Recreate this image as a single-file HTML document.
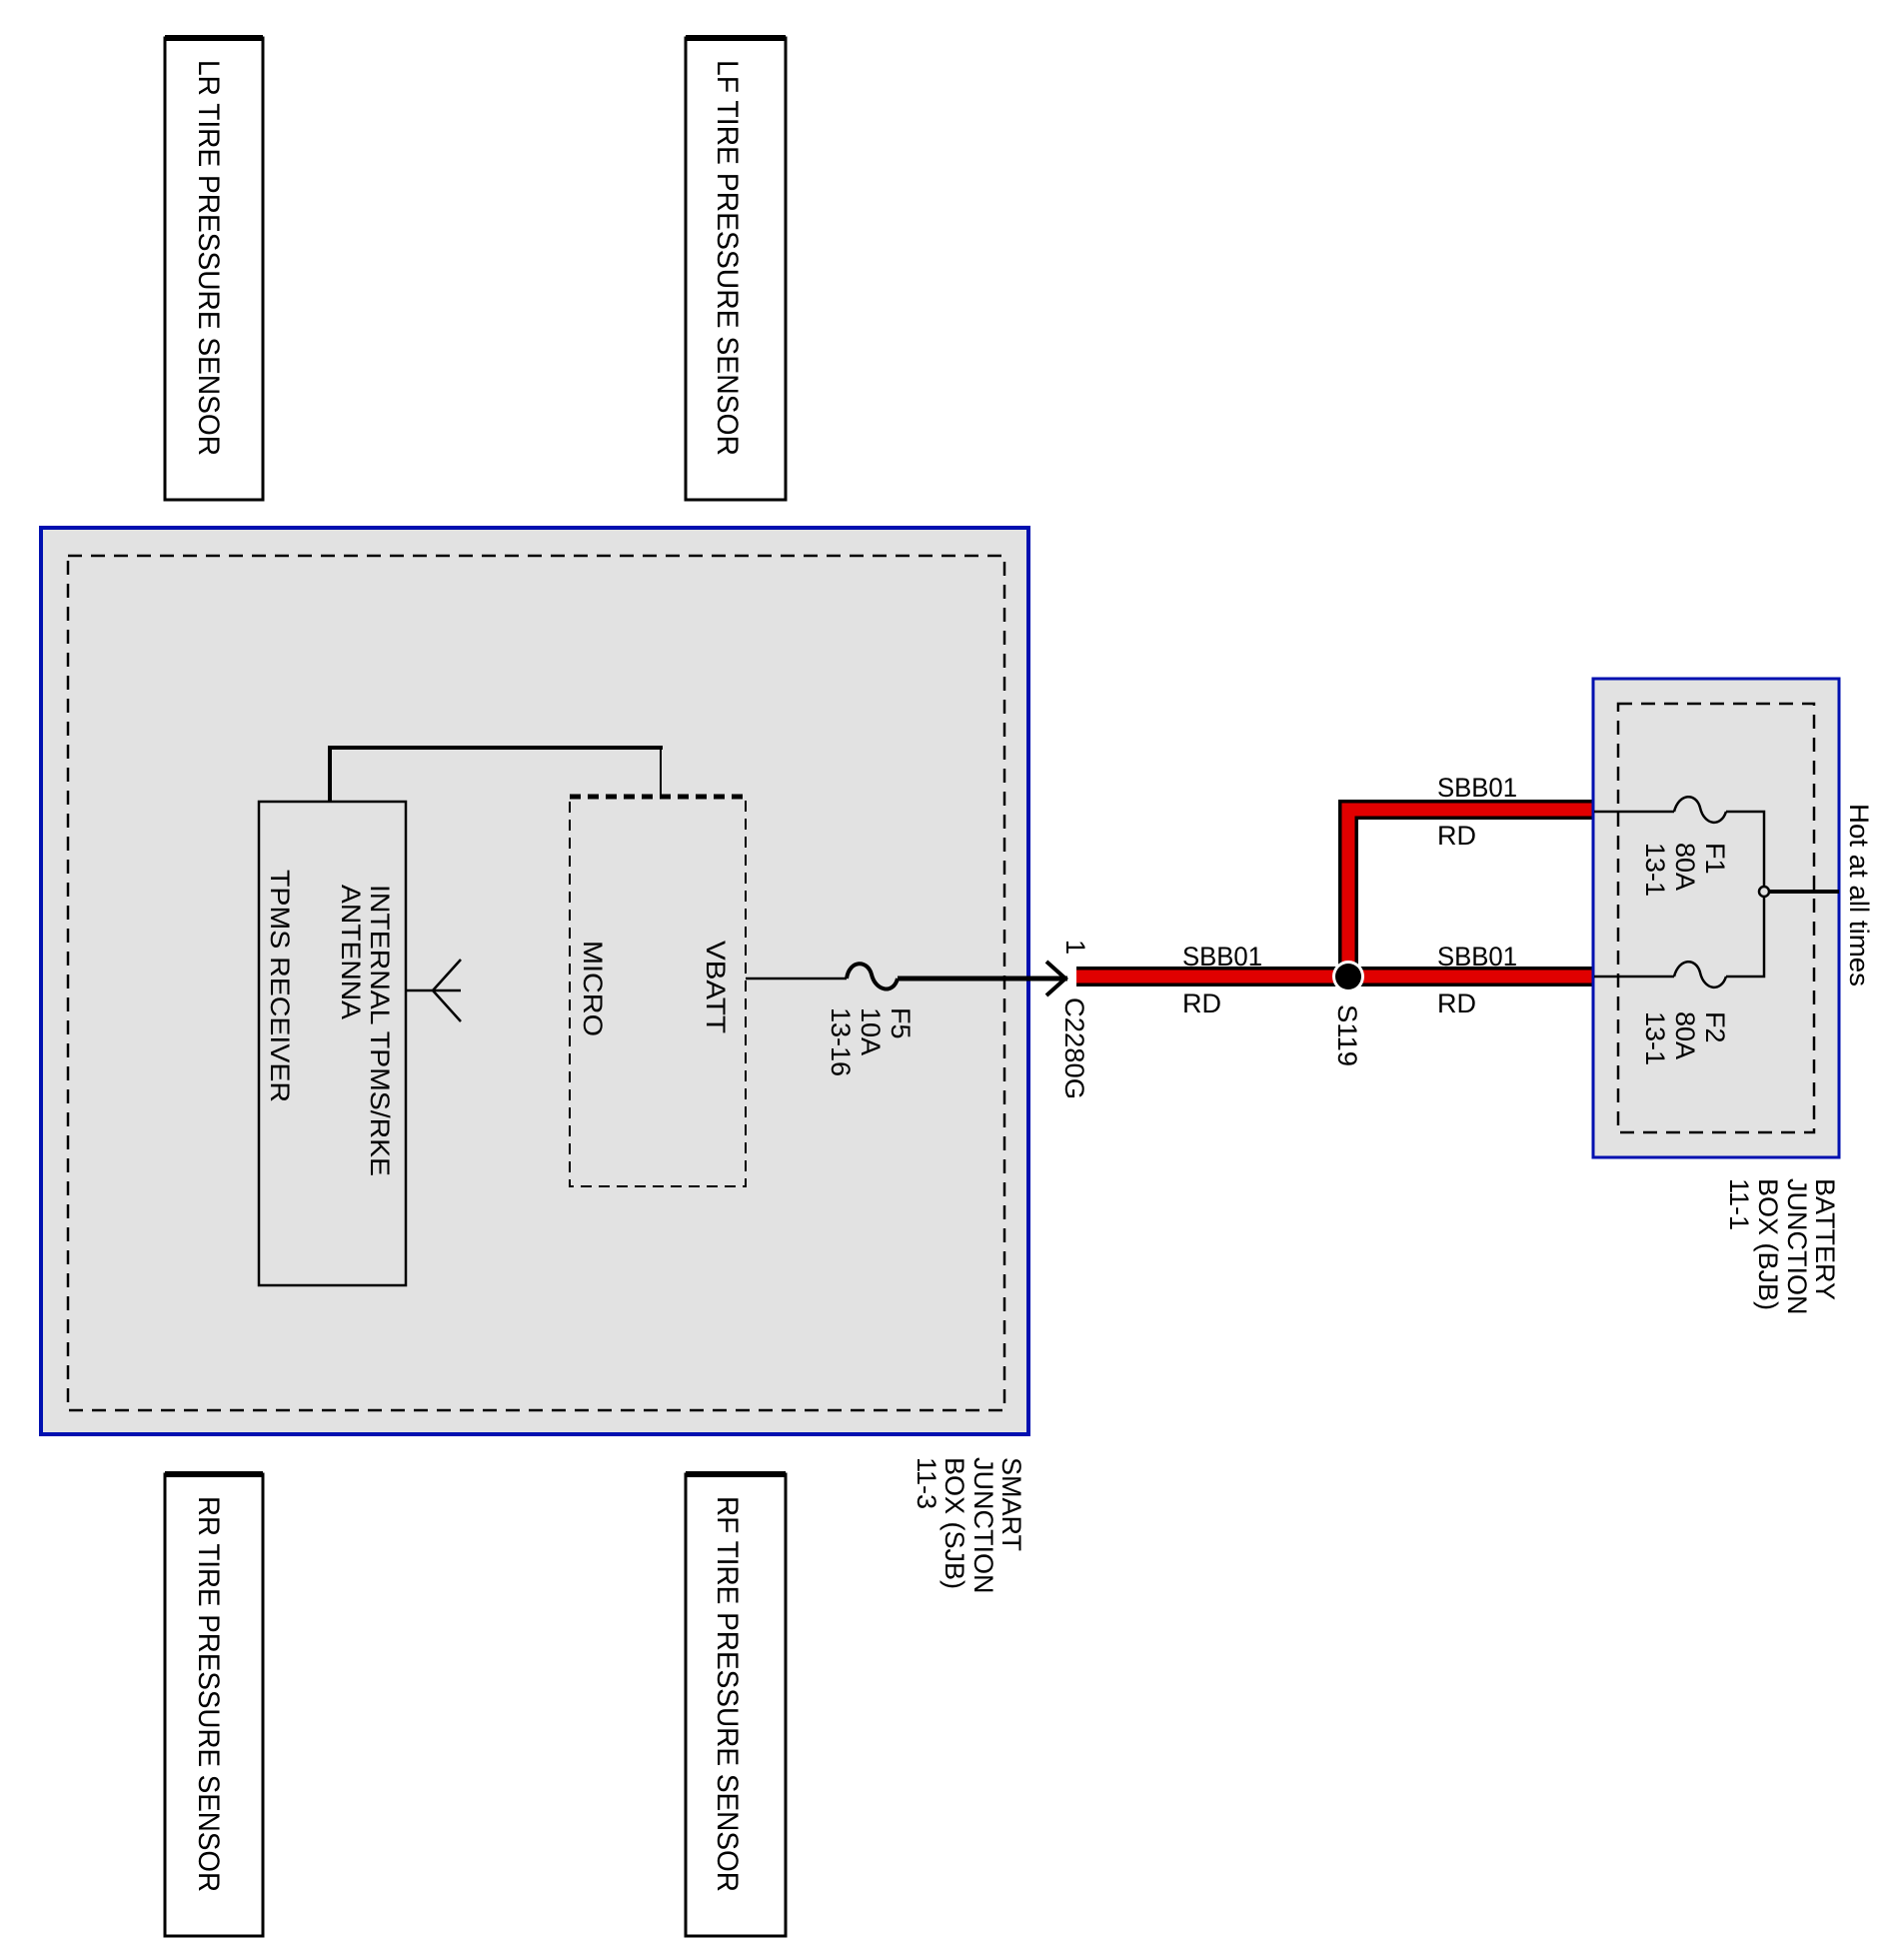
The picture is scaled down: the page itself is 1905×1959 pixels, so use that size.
<!DOCTYPE html>
<html><head><meta charset="utf-8"><style>
html,body{margin:0;padding:0;background:#fff;}
svg{display:block;}
text{font-family:"Liberation Sans",Arial,sans-serif;fill:#000;}
</style></head><body>
<svg width="1905" height="1959" viewBox="0 0 1905 1959" xmlns="http://www.w3.org/2000/svg">
<g fill="none" stroke="#000" stroke-width="3">
<rect x="165" y="38" width="98" height="462"/>
<rect x="686" y="38" width="100" height="462"/>
<rect x="165" y="1475" width="98" height="462"/>
<rect x="686" y="1475" width="100" height="462"/>
</g>
<g stroke="#000" stroke-width="6">
<line x1="165" y1="38" x2="263" y2="38"/><line x1="686" y1="38" x2="786" y2="38"/>
<line x1="165" y1="1475" x2="263" y2="1475"/><line x1="686" y1="1475" x2="786" y2="1475"/>
</g>
<g font-size="30">
<text transform="translate(199,60) rotate(90)" textLength="396" lengthAdjust="spacingAndGlyphs">LR TIRE PRESSURE SENSOR</text>
<text transform="translate(718,60) rotate(90)" textLength="396" lengthAdjust="spacingAndGlyphs">LF TIRE PRESSURE SENSOR</text>
<text transform="translate(199,1497) rotate(90)" textLength="396" lengthAdjust="spacingAndGlyphs">RR TIRE PRESSURE SENSOR</text>
<text transform="translate(718,1497) rotate(90)" textLength="396" lengthAdjust="spacingAndGlyphs">RF TIRE PRESSURE SENSOR</text>
</g>
<rect x="41" y="528" width="988" height="907" fill="#e2e2e2" stroke="#0010b0" stroke-width="4"/>
<rect x="68" y="556" width="937" height="855" fill="none" stroke="#000" stroke-width="2.5" stroke-dasharray="14,9"/>
<rect x="259" y="802" width="147" height="484" fill="none" stroke="#000" stroke-width="2.5"/>
<rect x="570" y="797" width="176" height="390" fill="none" stroke="#000" stroke-width="2" stroke-dasharray="11,7"/>
<line x1="570" y1="797" x2="746" y2="797" stroke="#000" stroke-width="5" stroke-dasharray="11,7"/>
<polyline points="330,802 330,748 663,748" fill="none" stroke="#000" stroke-width="4"/>
<line x1="661" y1="748" x2="661" y2="797" stroke="#000" stroke-width="2"/>
<g stroke="#000" stroke-width="2.5" fill="none">
<line x1="406" y1="991" x2="461" y2="991"/>
<line x1="433" y1="991" x2="461" y2="960"/>
<line x1="433" y1="991" x2="461" y2="1022"/>
</g>
<g font-size="27">
<text transform="translate(371,885) rotate(90)" textLength="292" lengthAdjust="spacingAndGlyphs">INTERNAL TPMS/RKE</text>
<text transform="translate(342,885) rotate(90)" textLength="135" lengthAdjust="spacingAndGlyphs">ANTENNA</text>
<text transform="translate(271,870) rotate(90)" textLength="233" lengthAdjust="spacingAndGlyphs">TPMS RECEIVER</text>
<text transform="translate(707,941) rotate(90)" textLength="93" lengthAdjust="spacingAndGlyphs">VBATT</text>
<text transform="translate(584,941) rotate(90)" textLength="96" lengthAdjust="spacingAndGlyphs">MICRO</text>
<text transform="translate(892,1008) rotate(90)">F5</text>
<text transform="translate(862,1008) rotate(90)">10A</text>
<text transform="translate(832,1008) rotate(90)">13-16</text>
<text transform="translate(1003,1458) rotate(90)">SMART</text>
<text transform="translate(975,1458) rotate(90)">JUNCTION</text>
<text transform="translate(946,1458) rotate(90)">BOX (SJB)</text>
<text transform="translate(918,1458) rotate(90)">11-3</text>
</g>
<line x1="746" y1="979" x2="847" y2="979" stroke="#000" stroke-width="2.5"/>
<path d="M847,979 C850,960 868,960 872,975 C876,992 894,995 898,979" fill="none" stroke="#000" stroke-width="4"/>
<line x1="898" y1="979" x2="1068" y2="979" stroke="#000" stroke-width="5"/>
<polyline points="1047,962 1066,979 1047,996" fill="none" stroke="#000" stroke-width="4"/>
<path d="M1077,977 H1595" fill="none" stroke="#000" stroke-width="20"/>
<path d="M1349,977 V810 H1595" fill="none" stroke="#000" stroke-width="20"/>
<path d="M1077,977 H1595" fill="none" stroke="#e00000" stroke-width="13"/>
<path d="M1349,977 V810 H1595" fill="none" stroke="#e00000" stroke-width="13"/>
<circle cx="1349" cy="977" r="16" fill="#fff"/>
<circle cx="1349" cy="977" r="13" fill="#000"/>
<g font-size="27">
<text x="1183" y="966" textLength="80" lengthAdjust="spacingAndGlyphs">SBB01</text>
<text x="1183" y="1013">RD</text>
<text x="1438" y="966" textLength="80" lengthAdjust="spacingAndGlyphs">SBB01</text>
<text x="1438" y="1013">RD</text>
<text x="1438" y="797" textLength="80" lengthAdjust="spacingAndGlyphs">SBB01</text>
<text x="1438" y="845">RD</text>
<text transform="translate(1067,940) rotate(90)">1</text>
<text transform="translate(1066,998) rotate(90)" textLength="102" lengthAdjust="spacingAndGlyphs">C2280G</text>
<text transform="translate(1339,1005) rotate(90)" textLength="62" lengthAdjust="spacingAndGlyphs">S119</text>
</g>
<rect x="1594" y="679" width="246" height="479" fill="#e2e2e2" stroke="#0010b0" stroke-width="3"/>
<rect x="1619" y="704" width="196" height="429" fill="none" stroke="#000" stroke-width="2.5" stroke-dasharray="14,9"/>
<g stroke="#000" stroke-width="2.5" fill="none">
<line x1="1595" y1="812" x2="1675" y2="812"/>
<line x1="1595" y1="977" x2="1675" y2="977"/>
<path d="M1675,812 C1680,793 1697,793 1701,808 C1705,826 1722,828 1727,812"/>
<path d="M1675,977 C1680,958 1697,958 1701,973 C1705,991 1722,993 1727,977"/>
<polyline points="1727,812 1765,812 1765,977 1727,977"/>
<circle cx="1765" cy="892" r="5" fill="#e2e2e2"/>
</g>
<line x1="1770" y1="892" x2="1840" y2="892" stroke="#000" stroke-width="4"/>
<g font-size="27">
<text transform="translate(1707,843) rotate(90)">F1</text>
<text transform="translate(1677,843) rotate(90)">80A</text>
<text transform="translate(1647,843) rotate(90)">13-1</text>
<text transform="translate(1707,1012) rotate(90)">F2</text>
<text transform="translate(1677,1012) rotate(90)">80A</text>
<text transform="translate(1647,1012) rotate(90)">13-1</text>
<text transform="translate(1851,804) rotate(90)" textLength="183" lengthAdjust="spacingAndGlyphs">Hot at all times</text>
<text transform="translate(1817,1179) rotate(90)">BATTERY</text>
<text transform="translate(1789,1179) rotate(90)">JUNCTION</text>
<text transform="translate(1760,1179) rotate(90)">BOX (BJB)</text>
<text transform="translate(1731,1179) rotate(90)">11-1</text>
</g>
</svg>
</body></html>
